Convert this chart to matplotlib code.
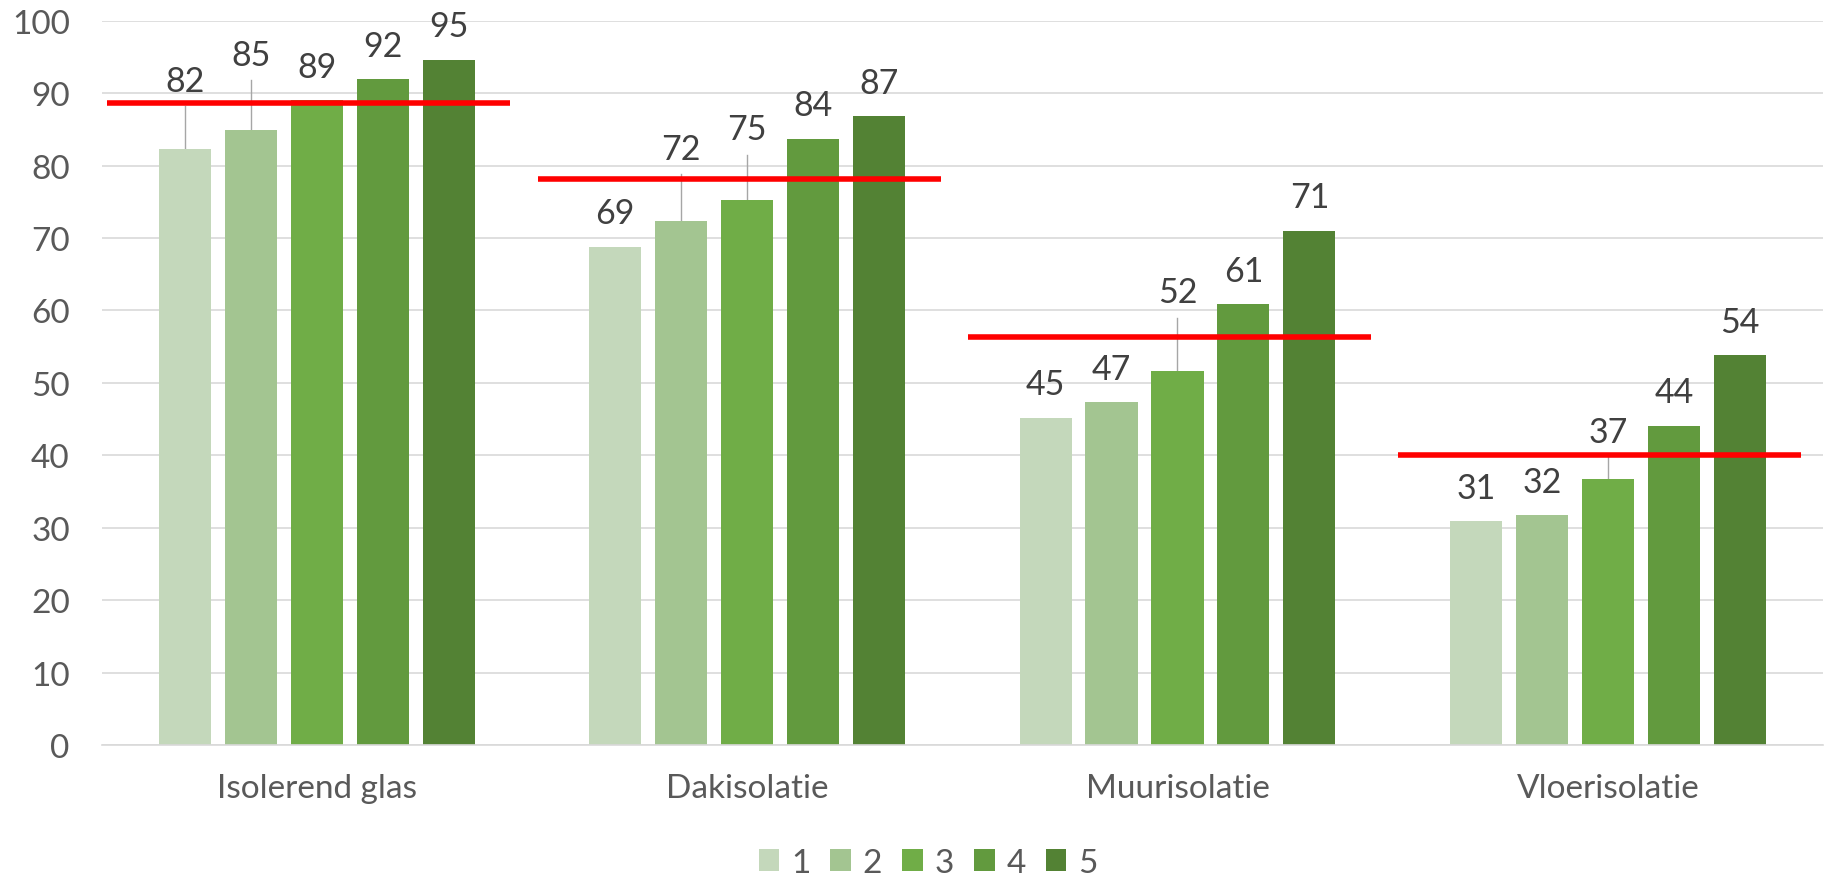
import matplotlib
matplotlib.use("Agg")
import matplotlib.pyplot as plt
import numpy as np

plt.rcParams['font.family'] = ['Lato', 'DejaVu Sans']

categories = ['Isolerend glas', 'Dakisolatie', 'Muurisolatie', 'Vloerisolatie']
series_names = ['1', '2', '3', '4', '5']
s1 = [82.3, 68.8, 45.2, 30.9]
s2 = [84.9, 72.4, 47.3, 31.7]
s3 = [89.0, 75.3, 51.7, 36.7]
s4 = [91.9, 83.7, 60.9, 44.1]
s5 = [94.6, 86.8, 71.0, 53.8]
averages = [88.6, 78.2, 56.4, 40.1]

colors = ['#C4D8BB', '#A3C591', '#70AD47', '#629A3E', '#538234']

# labels that Excel pushed up (with a leader line): (category, series) -> label centre
moved_labels = {(0, 0): 91.7, (0, 1): 95.3, (1, 1): 82.3, (1, 2): 85.0,
                (2, 2): 62.5, (3, 2): 43.2}

fig = plt.figure(figsize=(18.29, 8.78), dpi=100)
ax = fig.add_axes([0.0556, 0.1503, 0.9411, 0.825])

x = np.arange(len(categories))
width = 0.121
step = 0.1533
all_series = [s1, s2, s3, s4, s5]

for i, vals in enumerate(all_series):
    xs = x + (i - 2) * step
    ax.bar(xs, vals, width, color=colors[i], label=series_names[i], zorder=2)
    for j, v in enumerate(vals):
        if (j, i) in moved_labels:
            ly = moved_labels[(j, i)]
            ax.plot([xs[j], xs[j]], [v, ly - 3.5], color='#A6A6A6', lw=1.0, zorder=1.5)
        else:
            ly = v + 4.6
        ax.text(xs[j], ly, '%.0f' % v, ha='center', va='center', fontsize=24.5,
                color='#404040', zorder=4, clip_on=False)

for j, a in enumerate(averages):
    ax.plot([x[j] - 0.487, x[j] + 0.45], [a, a], color='#FF0000', lw=4.0,
            solid_capstyle='butt', zorder=3, clip_on=False)

ax.set_xlim(-0.5, 3.5)
ax.set_ylim(0, 100)
ax.set_yticks(range(0, 101, 10))
ax.set_xticks(x)
ax.set_xticklabels(categories)
ax.yaxis.grid(True, color='#D9D9D9', lw=1.2, zorder=0)
ax.set_axisbelow(True)
for side in ['top', 'right', 'left']:
    ax.spines[side].set_visible(False)
ax.spines['bottom'].set_color('#D9D9D9')
ax.spines['bottom'].set_linewidth(1.2)
ax.tick_params(axis='both', length=0, labelsize=24, colors='#595959')
ax.tick_params(axis='y', pad=23)
ax.tick_params(axis='x', pad=20)

ax.legend(loc='center', bbox_to_anchor=(928 / 1829, 1 - 864 / 878),
          bbox_transform=fig.transFigure, ncol=5, frameon=False, fontsize=24,
          handlelength=0.62, handleheight=0.62, handletextpad=0.35, columnspacing=0.6,
          labelcolor='#595959')

fig.savefig('out.png', dpi=100)
